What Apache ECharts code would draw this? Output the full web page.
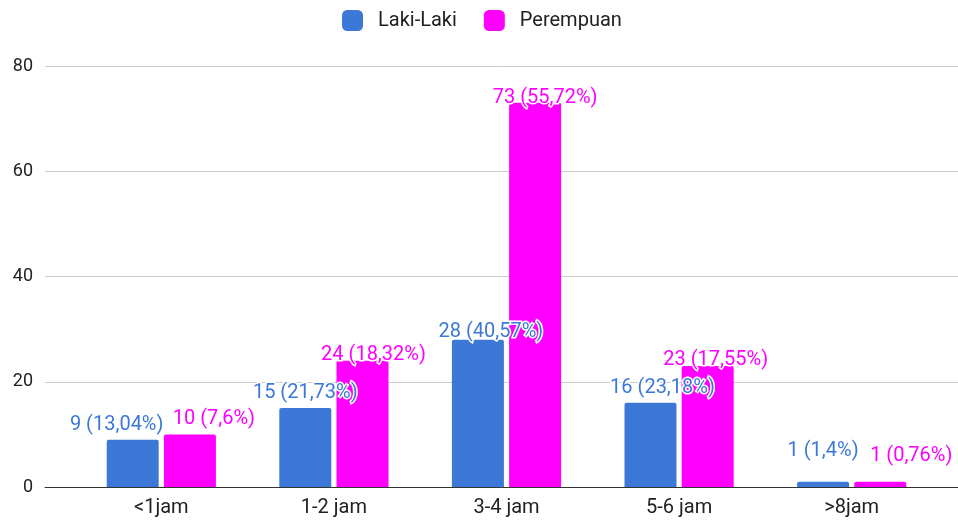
<!DOCTYPE html>
<html>
<head>
<meta charset="utf-8">
<script src="https://cdn.jsdelivr.net/npm/echarts@6/dist/echarts.min.js"></script>
<style>
  html, body { margin: 0; padding: 0; background: #fff; }
  #chart { width: 958px; height: 522px; }
</style>
</head>
<body>
<div id="chart"></div>
<script>
// Durasi per kategori waktu, dibagi menurut jenis kelamin
var categories = ['<1jam', '1-2 jam', '3-4 jam', '5-6 jam', '>8jam'];
var lakiValues = [9, 15, 28, 16, 1];
var lakiPercent = ['13,04%', '21,73%', '40,57%', '23,18%', '1,4%'];
var perempuanValues = [10, 24, 73, 23, 1];
var perempuanPercent = ['7,6%', '18,32%', '55,72%', '17,55%', '0,76%'];
var yTicks = { min: 0, max: 80, interval: 20 };

// Label nudges [dx, dy] so neighbouring value labels do not collide
var lakiLabelShift = [[-16, 0], [0, 0], [13, 7], [12, 0], [0, -16]];
var perempuanLabelShift = [[24, 0], [11, 9], [10, 10], [8, 9], [31, -11]];

var FONT = 'Roboto, "Noto Sans", sans-serif';
var BLUE = '#3c78d8';
var MAGENTA = '#ff00ff';

function buildSeriesData(values, pct, shifts) {
  return values.map(function (v, i) {
    return {
      value: v,
      label: {
        offset: shifts[i],
        formatter: v + ' (' + pct[i] + ')'
      }
    };
  });
}

function baseLabel(color) {
  return {
    show: true,
    position: 'top',
    distance: 5,
    color: color,
    fontFamily: FONT,
    fontSize: 20,
    textBorderColor: '#fff',
    textBorderWidth: 3
  };
}

var chart = echarts.init(document.getElementById('chart'), null, { renderer: 'canvas' });
chart.setOption({
  animation: false,
  backgroundColor: '#fff',
  legend: {
    top: 10,
    left: 342,
    padding: 0,
    itemWidth: 21,
    itemHeight: 21,
    itemGap: 27,
    icon: 'roundRect',
    textStyle: { fontFamily: FONT, fontSize: 20, color: '#222', padding: [0, 0, 0, 10] },
    data: ['Laki-Laki', 'Perempuan']
  },
  grid: [
    { left: 45, right: 0, top: 66, bottom: 35 },
    { left: 75, right: 20, top: 66, bottom: 35 }
  ],
  xAxis: [
    {
      gridIndex: 0, type: 'category', data: [''],
      axisLine: { lineStyle: { color: '#333', width: 1 } },
      axisTick: { show: false }, axisLabel: { show: false }
    },
    {
      gridIndex: 1, type: 'category', data: categories,
      axisLine: { show: false }, axisTick: { show: false },
      axisLabel: { color: '#222', fontFamily: FONT, fontSize: 20, margin: 11 }
    }
  ],
  yAxis: [
    {
      gridIndex: 0, type: 'value', min: yTicks.min, max: yTicks.max, interval: yTicks.interval,
      axisLine: { show: false }, axisTick: { show: false },
      splitLine: { lineStyle: { color: '#cccccc', width: 1 } },
      axisLabel: { color: '#222', fontFamily: FONT, fontSize: 18, margin: 12 }
    },
    {
      gridIndex: 1, type: 'value', min: yTicks.min, max: yTicks.max, interval: yTicks.interval,
      show: false
    }
  ],
  series: [
    {
      name: 'Laki-Laki', type: 'bar', xAxisIndex: 1, yAxisIndex: 1,
      data: buildSeriesData(lakiValues, lakiPercent, lakiLabelShift),
      barWidth: 52, barGap: '10%',
      itemStyle: { color: BLUE, borderRadius: [2, 2, 0, 0] },
      label: baseLabel(BLUE)
    },
    {
      name: 'Perempuan', type: 'bar', xAxisIndex: 1, yAxisIndex: 1,
      data: buildSeriesData(perempuanValues, perempuanPercent, perempuanLabelShift),
      barWidth: 52, barGap: '10%',
      itemStyle: { color: MAGENTA, borderRadius: [2, 2, 0, 0] },
      label: baseLabel(MAGENTA)
    }
  ]
});
</script>
</body>
</html>
